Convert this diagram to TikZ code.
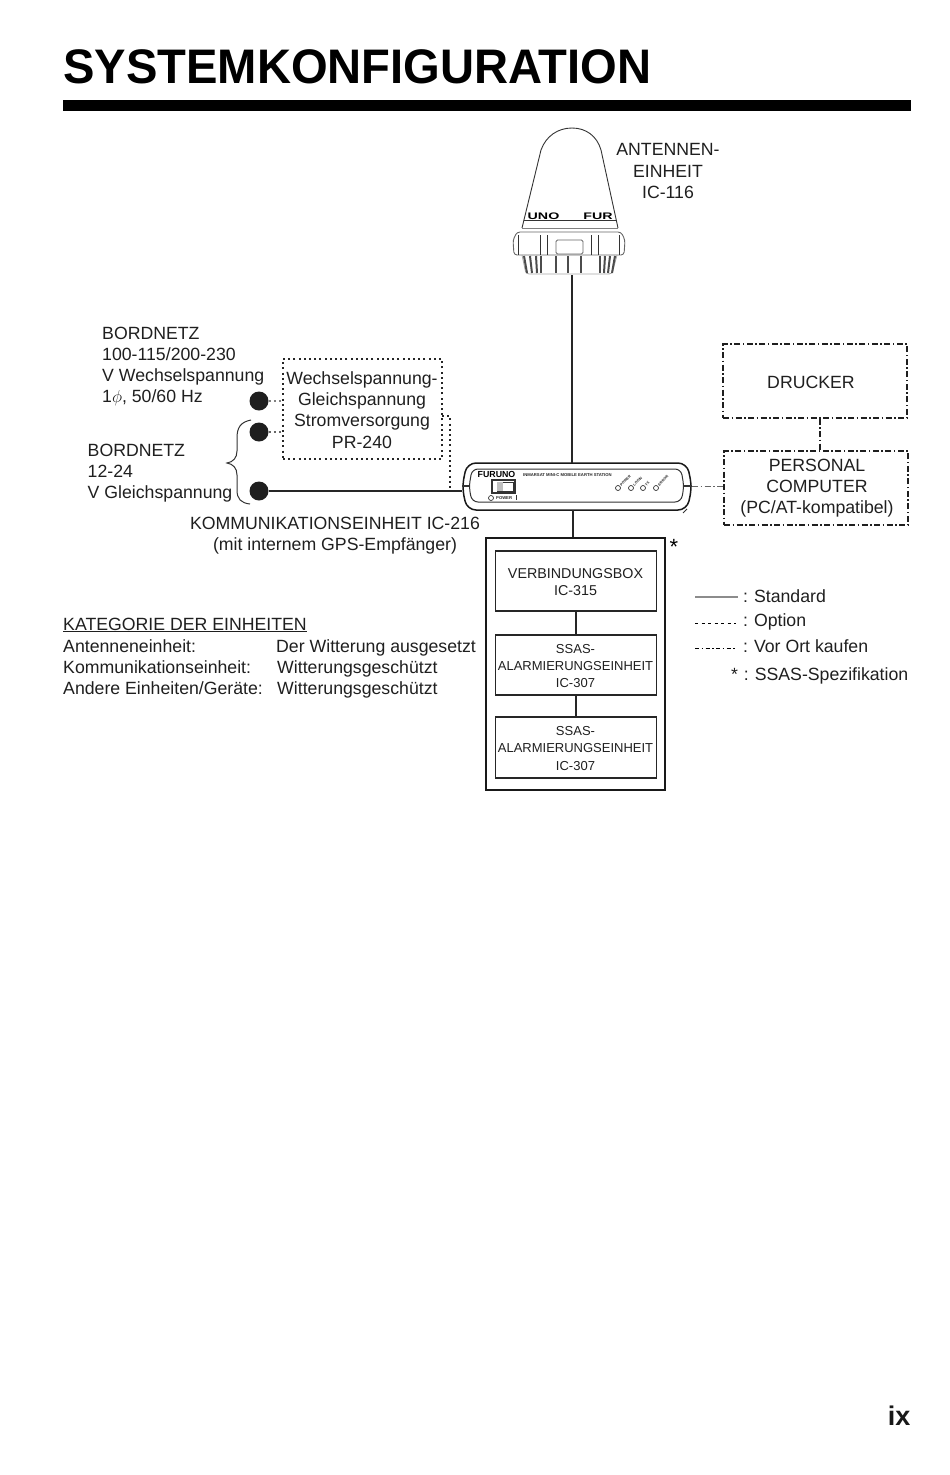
\documentclass[tikz,border=0pt]{standalone}
\usepackage{fontspec}
\setmainfont{Liberation Sans}
\tikzset{x=1pt,y=-1pt,
 lbl/.style={inner sep=0pt,align=center,font=\fontsize{17.7}{21.3}\selectfont,text=black!88},
 lblL/.style={inner sep=0pt,align=left,anchor=west,font=\fontsize{17.7}{21.3}\selectfont,text=black!88},
 lbase/.style={inner sep=0pt,anchor=base west,font=\fontsize{17.7}{21.3}\selectfont,text=black!88},
 boxlbl/.style={inner sep=0pt,align=center,font=\fontsize{14.3}{17.4}\selectfont,text=black!88},
 alarmlbl/.style={inner sep=0pt,align=center,font=\fontsize{13}{17.2}\selectfont,text=black!88},
 solidline/.style={draw=black!85,line width=1.2pt},
 optline/.style={draw=black!85,line width=1.05pt,dash pattern=on 2pt off 3.2pt},
 localline/.style={draw=black!88,line width=1.05pt,dash pattern=on 6pt off 2.5pt on 1.5pt off 2.5pt},
 innerbox/.style={draw=black!85,line width=1.2pt,minimum width=161pt,inner sep=0pt},
 feed/.style={circle,fill=black!88,minimum size=19pt,inner sep=0pt},
 art/.style={draw=black!80,line width=.9pt},
 led/.style={circle,draw=black!80,line width=.7pt,minimum size=5pt,inner sep=0pt},
 tiny/.style={inner sep=0pt,font=\bfseries\fontsize{4.2}{5}\selectfont,text=black!85},
 tinier/.style={inner sep=0pt,font=\bfseries\fontsize{3.6}{4}\selectfont,text=black!85}
}
\begin{document}
\begin{tikzpicture}
\useasboundingbox (0,0) rectangle (950,1475);
% title
\node[inner sep=0pt,anchor=base west,xscale=.972,font=\bfseries\fontsize{48.5}{50}\selectfont,text=black] (title) at (63,83) {SYSTEMKONFIGURATION};
\fill[black] (63,100) rectangle (911,111);
% antenna
\coordinate (antbot) at (572,275);
\draw[art] (522,228) -- (541,150) .. controls (546,136) and (558,128) .. (572,128) .. controls (586,128) and (597,136) .. (601,150) -- (618,228);
\draw[art,line width=1.3pt] (524,220.5) -- (616,220.5);
\draw[art,draw=black!50] (522,228) -- (618,228);
\node[inner sep=0pt,xscale=1.5,font=\bfseries\fontsize{9.5}{10}\selectfont,text=black] (uno) at (543.5,216) {UNO};
\node[inner sep=0pt,xscale=1.5,font=\bfseries\fontsize{9.5}{10}\selectfont,text=black] (fur) at (598,216) {FUR};
\draw[art,draw=black!60,rounded corners=3pt] (517,232) -- (621,232) -- (625,240) -- (624,255) -- (514,255) -- (513,240) -- cycle;
\draw[art,draw=black!60,rounded corners=1.5pt] (556,240) rectangle (583,254);
\foreach \x in {518,540,547,591,598,619}{\draw[art] (\x,235) -- (\x,255);}
\draw[draw=black!35,line width=.8pt,rounded corners=3pt] (522,255) -- (526,274) -- (612,274) -- (617,255);
\foreach \x/\w in {524/527,530/532,536/537,541/541,556/556,568/568,581/581,600/600,605/604,610/608,615/612}{\draw[black!70,line width=2pt] (\x,256) -- (\w,273);}
% comm unit
\draw[art,draw=black!90,line width=1.5pt,rounded corners=9pt] (467,463) -- (687,463) -- (692,487) -- (687,510) -- (467,510) -- (462,487) -- cycle;
\draw[art,line width=1pt,rounded corners=6pt] (472,469) -- (681,469) -- (684,487) -- (681,502) -- (472,502) -- (469,487) -- cycle;
\draw[art,line width=1.2pt] (462,486) -- (469,486) (684,486) -- (692,486);
\draw[art] (683,513) -- (687,509);
\node[inner sep=0pt,font=\bfseries\fontsize{8.8}{9}\selectfont,text=black] (furuno) at (496.5,474) {FURUNO};
\node[tiny,anchor=west] (inm) at (523,475) {INMARSAT MINI-C MOBILE EARTH STATION};
\draw[art,line width=1.1pt] (492,480) rectangle (515,493);
\draw[art] (497,482) rectangle (513,491);
\fill[black!25] (497,482) rectangle (503,491);
\node[led] (ledp) at (491,498) {};
\node[tiny,anchor=west] (ptxt) at (496,498) {POWER};
\draw[art] (516,495) -- (516,500);
\foreach \n/\x/\t in {a/618/POWER,b/631/LOGIN,c/643/TX,d/656/ERROR}{
  \node[led] (led\n) at (\x,488) {};
  \node[tinier,rotate=45,anchor=west] (t\n) at (\x+2.5,485.5) {\t};
}
\coordinate (unitL) at (462,491);
\coordinate (unitR) at (692,486);
\coordinate (unitT) at (572,463);
\coordinate (unitB) at (573,510);
\draw[solidline] (antbot) -- (unitT);
% antenna label
\node[lbl] (antl) at (668,171) {ANTENNEN-\\EINHEIT\\IC-116};
% left
\node[lblL] (bn1) at (102,366.5) {BORDNETZ\\100-115/200-230\\V Wechselspannung\\1\raisebox{0pt}{$\phi$}, 50/60 Hz};
\node[lblL] (bn2) at (87.5,473) {BORDNETZ\\12-24\\V Gleichspannung};
\node[feed] (d1) at (259,401) {};
\node[feed] (d2) at (259,432) {};
\node[feed] (d3) at (259,491) {};
\node[optline,draw,minimum width=159pt,minimum height=100pt,inner sep=0pt] (pr) at (362.5,409) {};
\node[lbl] (prt) at (362,410) {Wechselspannung-\\Gleichspannung\\Stromversorgung\\PR-240};
\draw[optline,draw=black!50] (d1) -- (d1 -| pr.west);
\draw[optline,draw=black!60] (d2) -- (d2 -| pr.west);
\draw[solidline] (d3) -- (unitL);
\coordinate (prR) at (442,416);
\coordinate (prJ) at (450,490);
\draw[optline] (prR) -| (prJ);
% brace
\draw[art,line width=1pt] (251,420) .. controls (241,422) and (237,427) .. (237,438) -- (237,451) .. controls (237,458) and (233,462) .. (227,463) .. controls (233,464) and (237,468) .. (237,475) -- (237,490) .. controls (237,499) and (241,503) .. (250,504);
\node[lbl] (ku) at (335,535.5) {KOMMUNIKATIONSEINHEIT IC-216\\(mit internem GPS-Empfänger)};
% right
\node[localline,draw,minimum width=184pt,minimum height=74pt,inner sep=0pt] (dr) at (815,381) {};
\node[lbl] (drt) at (811,382) {DRUCKER};
\node[localline,draw,minimum width=184pt,minimum height=74pt,inner sep=0pt] (pc) at (816,488) {};
\node[lbl] (pct) at (817,488) {PERSONAL\\COMPUTER\\(PC/AT-kompatibel)};
\draw[localline] (dr.south -| 820,0) -- (pc.north -| 820,0);
\draw[localline,line width=.7pt,draw=black!60] (unitR) -- (pc.west |- unitR);
% ssas
\node[draw=black!90,line width=1.6pt,minimum width=179pt,minimum height=252pt,inner sep=0pt] (ss) at (575.5,664) {};
\node[innerbox,minimum height=60pt] (b1) at (576,581) {};
\node[boxlbl] (b1t) at (575.5,582) {VERBINDUNGSBOX\\IC-315};
\node[innerbox,minimum height=60pt] (b2) at (576,665) {};
\node[alarmlbl] (b2t) at (575.5,666) {SSAS-\\ALARMIERUNGSEINHEIT\\IC-307};
\node[innerbox,minimum height=61pt] (b3) at (576,747.5) {};
\node[alarmlbl] (b3t) at (575.5,748.5) {SSAS-\\ALARMIERUNGSEINHEIT\\IC-307};
\draw[solidline] (b1) -- (b2);
\draw[solidline] (b2) -- (b3);
\draw[solidline] (unitB) -- (unitB |- ss.north);
\node[inner sep=0pt,font=\fontsize{22}{22}\selectfont,text=black] (star) at (674,547) {*};
% legend
\coordinate (l1a) at (695,597); \coordinate (l1b) at (738,597);
\coordinate (l2a) at (695,623); \coordinate (l2b) at (736,623);
\coordinate (l3a) at (695,648); \coordinate (l3b) at (736,648);
\draw[draw=black!45,line width=1.1pt] (l1a) -- (l1b);
\draw[draw=black,line width=.8pt,dash pattern=on 3pt off 3.5pt] (l2a) -- (l2b);
\draw[draw=black,line width=.8pt,dash pattern=on 4pt off 2.5pt on 1.5pt off 2.5pt] (l3a) -- (l3b);
\node[lbase] (s1) at (743,602) {:\,\,Standard};
\node[lbase] (s2) at (743,626.5) {:\,\,Option};
\node[lbase] (s3) at (743,652) {:\,\,Vor Ort kaufen};
\node[lbase] (s4) at (731,680) {*\,\,:\,\,SSAS-Spezifikation};
% category
\node[lbase] (k0) at (63,630) {\underline{KATEGORIE DER EINHEITEN}};
\node[lbase] (k1) at (63,652) {Antenneneinheit:};
\node[lbase] (k2) at (63,673) {Kommunikationseinheit:};
\node[lbase] (k3) at (63,694) {Andere Einheiten/Geräte:};
\node[lbase] (v1) at (276,652) {Der Witterung ausgesetzt};
\node[lbase] (v2) at (277,673) {Witterungsgeschützt};
\node[lbase] (v3) at (277,694) {Witterungsgeschützt};
\node[inner sep=0pt,font=\bfseries\fontsize{27}{27}\selectfont,text=black!90] (pg) at (899,1416) {ix};
\end{tikzpicture}
\end{document}
